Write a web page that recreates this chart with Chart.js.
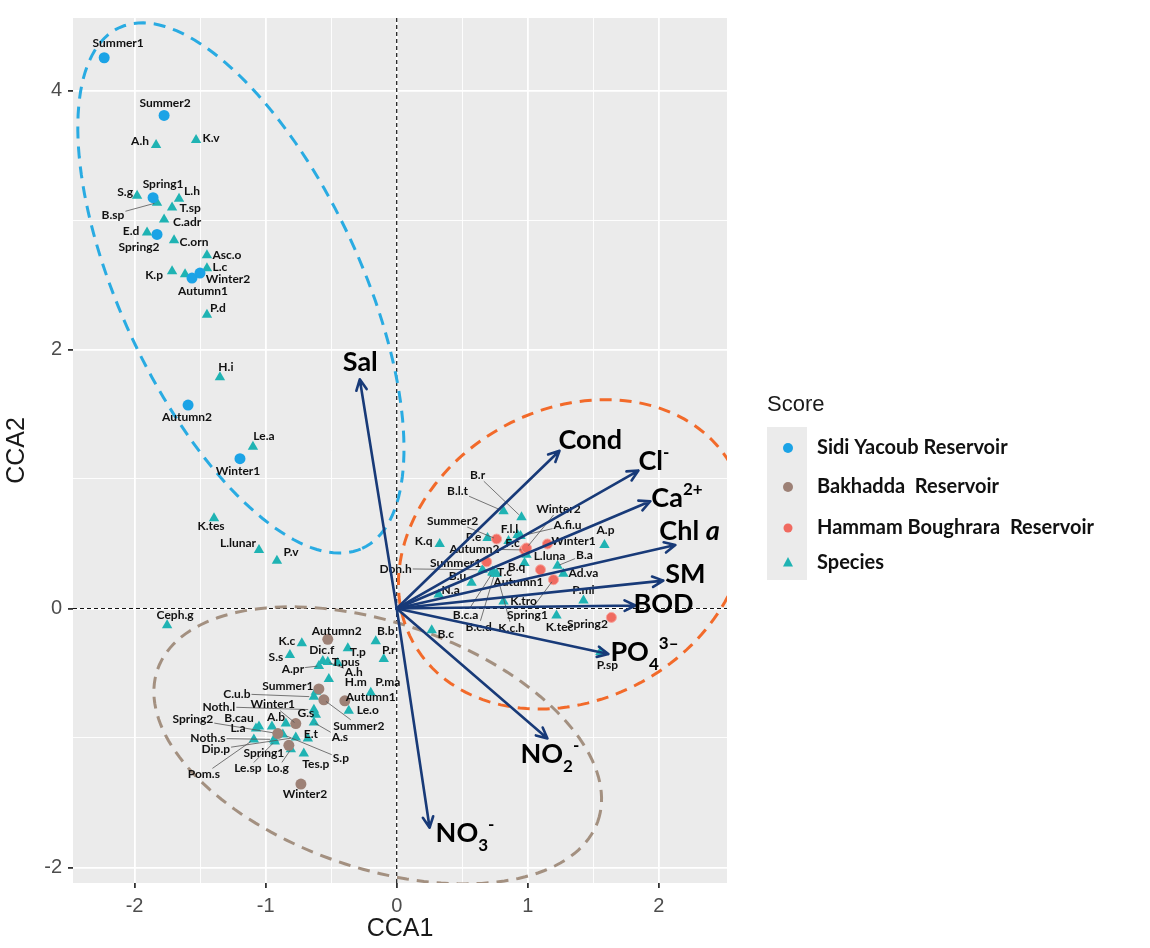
<!DOCTYPE html>
<html>
<head>
<meta charset="utf-8">
<script src="https://cdn.jsdelivr.net/npm/chart.js@4.4.1/dist/chart.umd.min.js"></script>
<style>
  html, body { margin: 0; padding: 0; background: #fff; }
  #wrap { width: 1150px; height: 948px; position: relative; }
</style>
</head>
<body>
<div id="wrap"><canvas id="myCCAChart"></canvas></div>
<script>
"use strict";

// Sidi Yacoub reservoir (site scores)
var sidiNames = ["Summer1", "Summer2", "Spring1", "Spring2", "Autumn1", "Winter2", "Autumn2", "Winter1"];
var sidiX = [-2.232, -1.775, -1.859, -1.829, -1.562, -1.501, -1.592, -1.196];
var sidiY = [4.253, 3.808, 3.172, 2.889, 2.552, 2.590, 1.571, 1.157];

// Bakhadda reservoir
var bakNames = ["Autumn2", "Summer1", "Summer2", "Autumn1", "Winter1", "Spring2", "Spring1", "Winter2"];
var bakX = [-0.526, -0.594, -0.556, -0.396, -0.770, -0.907, -0.823, -0.731];
var bakY = [-0.238, -0.621, -0.705, -0.713, -0.889, -0.966, -1.057, -1.356];

// Hammam Boughrara reservoir
var hamNames = ["Summer2", "Autumn2", "Winter2", "Winter1", "Summer1", "Autumn1", "Spring1", "Spring2"];
var hamX = [0.762, 0.975, 0.990, 1.150, 0.686, 1.097, 1.196, 1.638];
var hamY = [0.536, 0.452, 0.467, 0.498, 0.360, 0.299, 0.222, -0.069];

// species scores
var spNames = ["A.h", "K.v", "S.g", "B.sp", "L.h", "T.sp", "C.adr", "E.d", "C.orn", "Asc.o",
  "L.c", "K.p", "", "P.d", "H.i", "Le.a", "K.tes", "L.lunar", "P.v", "Ceph.g",
  "K.c", "S.s", "Dic.f", "A.pr", "T.p", "T.pus", "A.h", "B.b", "P.r", "H.m",
  "P.ma", "C.u.b", "Noth.l", "G.s", "A.s", "L.a", "B.cau", "A.b", "", "E.t",
  "Dip.p", "Noth.s", "Pom.s", "Le.sp", "Lo.g", "Tes.p", "S.p", "Le.o", "",
  "B.r", "B.l.t", "F.l.l", "A.fi.u", "K.q", "A.p", "P.e", "F.c", "L.luna", "B.q",
  "B.a", "Ad.va", "T.c", "Don.h", "B.u", "N.a", "K.tro", "P.mi", "K.tec", "B.c",
  "P.sp", "B.c.a", "B.c.d", "K.c.h"];
var spX = [-1.836, -1.531, -1.981, -1.829, -1.661, -1.714, -1.775, -1.905, -1.699, -1.448,
  -1.448, -1.714, -1.615, -1.448, -1.349, -1.097, -1.394, -1.051, -0.914, -1.752,
  -0.724, -0.815, -0.564, -0.594, -0.373, -0.450, -0.526, -0.160, -0.099, -0.518,
  -0.198, -0.632, -0.632, -0.617, -0.632, -1.074, -1.051, -0.952, -0.846, -0.678,
  -0.770, -0.937, -1.090, -0.930, -0.808, -0.709, -0.869, -0.366, -0.617,
  0.952, 0.815, 0.922, 0.945, 0.328, 1.585, 0.693, 0.853, 0.990, 0.975,
  1.227, 1.272, 0.731, 0.655, 0.571, 0.320, 0.815, 1.425, 1.219, 0.267,
  1.554, 0.731, 0.747, 0.762];
var spY = [3.579, 3.617, 3.188, 3.134, 3.165, 3.096, 3.004, 2.904, 2.843, 2.728,
  2.628, 2.605, 2.582, 2.268, 1.785, 1.249, 0.697, 0.452, 0.368, -0.130,
  -0.268, -0.360, -0.406, -0.444, -0.307, -0.421, -0.414, -0.253, -0.391, -0.544,
  -0.651, -0.682, -0.782, -0.820, -0.881, -0.927, -0.912, -0.912, -0.889, -1.004,
  -0.996, -1.011, -1.011, -1.027, -1.088, -1.119, -0.973, -0.789, -0.644,
  0.705, 0.751, 0.567, 0.559, 0.498, 0.490, 0.544, 0.521, 0.414, 0.352,
  0.330, 0.268, 0.284, 0.299, 0.199, 0.107, 0.053, 0.061, -0.054, -0.168,
  -0.337, 0.276, 0.268, 0.268];

// environmental vectors (arrow tips)
var envNames = ["Sal", "Cond", "Cl|^-", "Ca|^2+", "Chl |~a", "SM", "BOD", "PO|_4|^3\u2013", "NO|_2|^-", "NO|_3|^-"];
var envX = [-0.282, 1.242, 1.844, 1.935, 2.126, 2.034, 1.821, 1.615, 1.150, 0.251];
var envY = [1.770, 1.218, 1.065, 0.828, 0.490, 0.215, 0.023, -0.352, -1.004, -1.693];

// group ellipses: centre x, centre y, semi-major, semi-minor, angle (deg)
var ellSidi = [-1.189, 2.475, 2.214, 0.916, -65.3];
var ellHam = [1.341, 0.418, 1.393, 1.118, 30.4];
var ellBak = [-0.145, -1.057, 1.779, 0.947, -19.3];

var xTicks = [-2, -1.5, -1, -0.5, 0, 0.5, 1, 1.5, 2];
var yTicks = [-2, -1, 0, 1, 2, 3, 4];

var legendNames = ["Sidi Yacoub Reservoir", "Bakhadda  Reservoir", "Hammam Boughrara  Reservoir", "Species"];

// label placement (pixel offsets of label centre from the point, third item = leader line)
var sidiOffs = [[14, -15], [1, -12], [10, -14], [-18, 13], [11, 13], [28, 6], [-1, 12], [-2, 12]];
var bakOffs = [[9, -8], [-31, -3], [35, 26, 1], [26, -4], [-23, -19, 1], [-85, -14, 1], [-25, 8], [4, 10]];
var hamOffs = [[-44, -18, 1], [-50, -1, 1], [32, -39, 1], [26, -3], [-31, 1], [-22, 12], [-26, 35, 1], [-24, 7]];
var spOffs = [[-16, -4], [15, -2], [-12, -4], [-44, 12, 1], [13, -8], [18, 1], [23, 3], [-16, -1], [20, 2], [20, 0],
  [13, -1], [-18, 4], [0, 0], [11, -7], [6, -10], [11, -11], [-3, 8], [-21, -7], [14, -9], [8, -10],
  [-15, -2], [-14, 2], [-1, -11], [-26, 3, 1], [10, 4], [8, -1], [26, 10, 1], [10, -10], [5, -9], [27, 3],
  [17, -11], [-77, -3, 1], [-95, -3, 1], [-10, -2], [26, 15, 1], [-18, 0], [-20, -8], [4, -9], [0, 0], [3, -4],
  [-80, 12, 1], [-66, -1, 1], [-50, 35, 1], [-27, 27, 1], [-13, 19, 1], [12, 11], [58, 24, 1], [19, -1], [0, 0],
  [-44, -42, 1], [-46, -20, 1], [-8, -6], [47, -11, 1], [-16, -3], [1, -15], [-14, -1], [4, 2], [23, 1], [-8, 4],
  [27, -11, 1], [20, -1], [12, 0], [-87, -1, 1], [-14, -7], [12, -4], [20, 0], [0, -10], [3, 12], [14, 4],
  [7, 13], [-27, 42, 1], [-16, 53, 1], [15, 54, 1]];
var envOffs = [[-17, -17], [-1, -10], [0, -9], [1, -3], [-16, -14], [2, -6], [-2, -1], [2, -2], [-27, 16], [6, 6]];

var colSidi = "#1ba3e6", colBak = "#9d8176", colHam = "#f06a60", colSp = "#1fb3b3";
var colArrow = "#183a78";

function toPts(xs, ys) {
  return xs.map(function (x, i) { return { x: x, y: ys[i] }; });
}

function ellipsePts(e) {
  var th = e[4] * Math.PI / 180, pts = [];
  for (var k = 0; k <= 160; k++) {
    var t = k / 160 * 2 * Math.PI;
    pts.push({
      x: e[0] + e[2] * Math.cos(t) * Math.cos(th) - e[3] * Math.sin(t) * Math.sin(th),
      y: e[1] + e[2] * Math.cos(t) * Math.sin(th) + e[3] * Math.sin(t) * Math.cos(th)
    });
  }
  return pts;
}

function ellipseDs(e, color) {
  return {
    type: "scatter", data: ellipsePts(e), showLine: true, pointRadius: 0,
    borderColor: color, borderWidth: 3, borderDash: [12, 8], fill: false, order: 10
  };
}

// draws "NO|_2|^-" style labels
function drawRich(ctx, spec, x, y) {
  spec.split("|").forEach(function (part) {
    var t = part, dy = 0, font = "bold 27px Lato";
    if (part[0] === "_") { t = part.slice(1); dy = 12; font = "bold 17px Lato"; }
    else if (part[0] === "^") { t = part.slice(1); dy = -9; font = "bold 17px Lato"; }
    else if (part[0] === "~") { t = part.slice(1); font = "italic bold 27px Lato"; }
    ctx.font = font;
    ctx.fillText(t, x, y + dy);
    x += ctx.measureText(t).width;
  });
}

var panelPlugin = {
  id: "panel",
  beforeDraw: function (chart) {
    var a = chart.chartArea, ctx = chart.ctx;
    ctx.save();
    ctx.fillStyle = "#ebebeb";
    ctx.fillRect(a.left, a.top, a.right - a.left, a.bottom - a.top);
    ctx.restore();
  },
  beforeDatasetsDraw: function (chart) {
    var a = chart.chartArea, ctx = chart.ctx;
    var x0 = chart.scales.x.getPixelForValue(0), y0 = chart.scales.y.getPixelForValue(0);
    ctx.save();
    ctx.strokeStyle = "#111";
    ctx.lineWidth = 1.2;
    ctx.setLineDash([4, 3]);
    ctx.beginPath();
    ctx.moveTo(x0, a.top); ctx.lineTo(x0, a.bottom);
    ctx.moveTo(a.left, y0); ctx.lineTo(a.right, y0);
    ctx.stroke();
    ctx.restore();
  }
};

var labelPlugin = {
  id: "pointLabels",
  afterDatasetsDraw: function (chart) {
    var ctx = chart.ctx;
    ctx.save();
    ctx.font = "bold 12px Lato";
    ctx.textAlign = "center";
    ctx.textBaseline = "middle";
    var items = [];
    chart.data.datasets.forEach(function (ds, i) {
      if (!ds.names) return;
      chart.getDatasetMeta(i).data.forEach(function (pt, j) {
        if (!ds.names[j]) return;
        items.push({ name: ds.names[j], px: pt.x, py: pt.y, off: ds.offs[j] });
      });
    });
    // leader lines first
    ctx.strokeStyle = "#555";
    ctx.lineWidth = 0.8;
    items.forEach(function (it) {
      if (!it.off[2]) return;
      var lx = it.px + it.off[0], ly = it.py + it.off[1];
      var w = ctx.measureText(it.name).width / 2 + 1, h = 6;
      var dx = it.px - lx, dy = it.py - ly;
      var t = Math.min(dx ? w / Math.abs(dx) : 99, dy ? h / Math.abs(dy) : 99);
      if (t >= 1) return;
      ctx.beginPath();
      ctx.moveTo(lx + dx * t, ly + dy * t);
      ctx.lineTo(it.px - dx * 0.06, it.py - dy * 0.06);
      ctx.stroke();
    });
    ctx.fillStyle = "#111";
    items.forEach(function (it) {
      ctx.fillText(it.name, it.px + it.off[0], it.py + it.off[1]);
    });
    ctx.restore();
  }
};

var arrowPlugin = {
  id: "envArrows",
  afterDatasetsDraw: function (chart) {
    var ctx = chart.ctx, sx = chart.scales.x, sy = chart.scales.y;
    var x0 = sx.getPixelForValue(0), y0 = sy.getPixelForValue(0);
    ctx.save();
    ctx.strokeStyle = colArrow;
    ctx.lineWidth = 2.6;
    ctx.lineCap = "round";
    ctx.lineJoin = "round";
    envX.forEach(function (v, i) {
      var x1 = sx.getPixelForValue(v), y1 = sy.getPixelForValue(envY[i]);
      var ang = Math.atan2(y1 - y0, x1 - x0), L = 12;
      ctx.beginPath();
      ctx.moveTo(x0, y0); ctx.lineTo(x1, y1);
      ctx.moveTo(x1 - L * Math.cos(ang - 0.45), y1 - L * Math.sin(ang - 0.45));
      ctx.lineTo(x1, y1);
      ctx.lineTo(x1 - L * Math.cos(ang + 0.45), y1 - L * Math.sin(ang + 0.45));
      ctx.stroke();
    });
    ctx.fillStyle = "#000";
    ctx.textAlign = "left";
    ctx.textBaseline = "middle";
    envNames.forEach(function (n, i) {
      var x1 = sx.getPixelForValue(envX[i]), y1 = sy.getPixelForValue(envY[i]);
      drawRich(ctx, n, x1 + envOffs[i][0], y1 + envOffs[i][1]);
    });
    ctx.restore();
  }
};

var legendPlugin = {
  id: "scoreLegend",
  afterDraw: function (chart) {
    var ctx = chart.ctx;
    var keyX = 767, rows = [448, 487, 528, 563];
    ctx.save();
    ctx.fillStyle = "#ebebeb";
    ctx.fillRect(keyX, 427, 40, 153);
    ctx.fillStyle = "#1a1a1a";
    ctx.font = "22px 'Liberation Sans'";
    ctx.textBaseline = "middle";
    ctx.fillText("Score", keyX, 405);
    var cols = [colSidi, colBak, colHam, colSp];
    rows.forEach(function (y, i) {
      ctx.fillStyle = cols[i];
      ctx.beginPath();
      if (i === 3) {
        ctx.moveTo(788, y - 6); ctx.lineTo(793, y + 3.5); ctx.lineTo(783, y + 3.5); ctx.closePath();
      } else {
        ctx.arc(788, y, i === 2 ? 4.5 : 5, 0, 2 * Math.PI);
      }
      ctx.fill();
      ctx.fillStyle = "#111";
      ctx.font = "bold 20px Lato";
      ctx.fillText(legendNames[i], 817, y);
    });
    ctx.restore();
  }
};

var ctx = document.getElementById("myCCAChart").getContext("2d");
var myChart = new Chart(ctx, {
  type: "scatter",
  data: {
    datasets: [
      {
        label: "Sidi Yacoub Reservoir", data: toPts(sidiX, sidiY), names: sidiNames, offs: sidiOffs,
        pointStyle: "circle", pointRadius: 5.5, backgroundColor: colSidi, borderColor: colSidi, borderWidth: 0, order: 1
      },
      {
        label: "Bakhadda Reservoir", data: toPts(bakX, bakY), names: bakNames, offs: bakOffs,
        pointStyle: "circle", pointRadius: 5.5, backgroundColor: colBak, borderColor: colBak, borderWidth: 0, order: 1
      },
      {
        label: "Hammam Boughrara Reservoir", data: toPts(hamX, hamY), names: hamNames, offs: hamOffs,
        pointStyle: "circle", pointRadius: 5, backgroundColor: colHam, borderColor: "#f7a49c", borderWidth: 1, order: 1
      },
      {
        label: "Species", data: toPts(spX, spY), names: spNames, offs: spOffs,
        pointStyle: "triangle", pointRadius: 6, backgroundColor: colSp, borderColor: colSp, borderWidth: 0, order: 2
      },
      ellipseDs(ellSidi, "#29abe2"),
      ellipseDs(ellHam, "#f26a2a"),
      ellipseDs(ellBak, "#a39080")
    ]
  },
  options: {
    responsive: true,
    maintainAspectRatio: false,
    animation: false,
    events: [],
    layout: { padding: { left: 0, top: 11, right: 423, bottom: 0 } },
    plugins: { legend: { display: false }, tooltip: { enabled: false } },
    scales: {
      x: {
        type: "linear", min: -2.47, max: 2.52,
        afterBuildTicks: function (s) { s.ticks = xTicks.map(function (v) { return { value: v }; }); },
        afterFit: function (s) { s.height = 65; },
        border: { display: false },
        grid: {
          color: "#ffffff",
          lineWidth: function (c) { return c.tick && Number.isInteger(c.tick.value) ? 1.8 : 0.9; },
          tickColor: function (c) { return c.tick && Number.isInteger(c.tick.value) ? "#333" : "rgba(0,0,0,0)"; },
          tickLength: 5
        },
        ticks: {
          autoSkip: false, maxRotation: 0, padding: 6, color: "#4d4d4d",
          font: { family: "Liberation Sans", size: 20 },
          callback: function (v) { return Number.isInteger(v) ? v : ""; }
        },
        title: {
          display: true, text: "CCA1", color: "#1a1a1a",
          font: { family: "Liberation Sans", size: 25 }, padding: { top: 0, bottom: 4 }
        }
      },
      y: {
        type: "linear", min: -2.12, max: 4.56,
        afterBuildTicks: function (s) { s.ticks = yTicks.map(function (v) { return { value: v }; }); },
        afterFit: function (s) { s.width = 73; },
        border: { display: false },
        grid: {
          color: "#ffffff",
          lineWidth: function (c) { return c.tick && c.tick.value % 2 === 0 ? 1.8 : 0.9; },
          tickColor: function (c) { return c.tick && c.tick.value % 2 === 0 ? "#333" : "rgba(0,0,0,0)"; },
          tickLength: 5
        },
        ticks: {
          autoSkip: false, padding: 6, color: "#4d4d4d",
          font: { family: "Liberation Sans", size: 20 },
          callback: function (v) { return v % 2 === 0 ? v : ""; }
        },
        title: {
          display: true, text: "CCA2", color: "#1a1a1a",
          font: { family: "Liberation Sans", size: 25 }, padding: { top: 2, bottom: 0 }
        }
      }
    }
  },
  plugins: [panelPlugin, labelPlugin, arrowPlugin, legendPlugin]
});
</script>
</body>
</html>
